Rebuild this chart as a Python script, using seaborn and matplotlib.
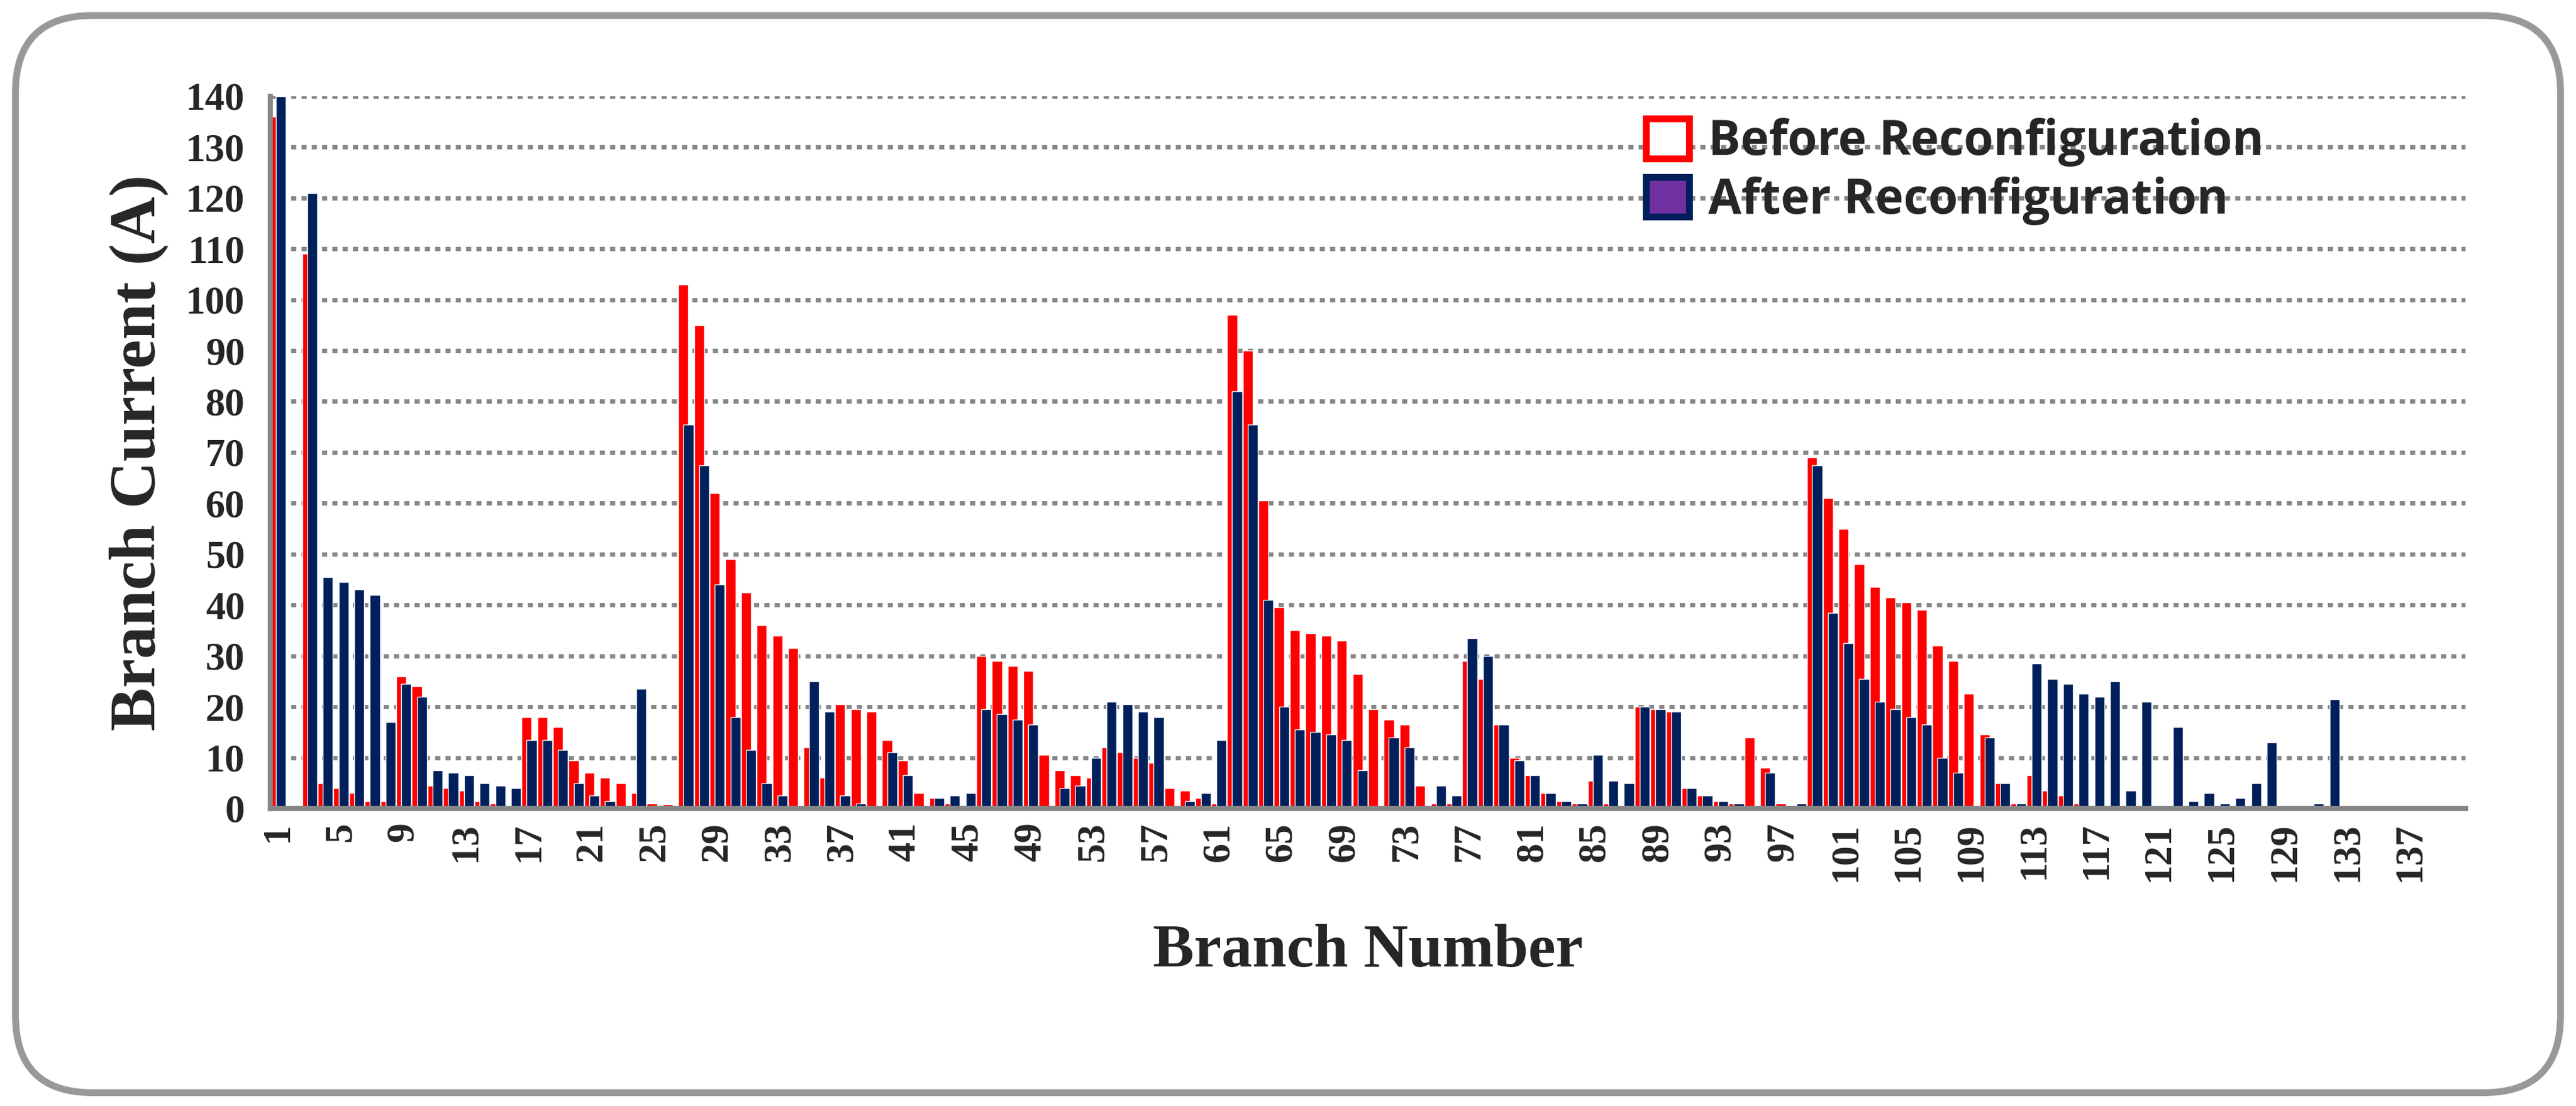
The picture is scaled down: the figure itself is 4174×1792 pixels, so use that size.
import numpy as np
import pandas as pd
import matplotlib
matplotlib.use("Agg")
import matplotlib.pyplot as plt
import seaborn as sns
from matplotlib.patches import Patch, FancyBboxPatch

# 브랜치별 전류 (A)
branch = list(range(1, 141))
before = [136, 0.5, 109, 5, 4, 3, 1.5, 1.5, 26, 24,
          4.5, 4, 3.5, 1.5, 1, 0.5, 18, 18, 16, 9.5,
          7, 6, 5, 3, 1, 0.8, 103, 95, 62, 49,
          42.5, 36, 34, 31.5, 12, 6, 20.5, 19.5, 19, 13.5,
          9.5, 3, 2, 1, 0.5, 30, 29, 28, 27, 10.5,
          7.5, 6.5, 6, 12, 11, 10, 9, 4, 3.5, 2,
          1, 97, 90, 60.5, 39.5, 35, 34.5, 34, 33, 26.5,
          19.5, 17.5, 16.5, 4.5, 1, 1, 29, 25.5, 16.5, 10,
          6.5, 3, 1.5, 1, 5.5, 1, 0.5, 20, 19.5, 19,
          4, 2.5, 1.5, 1, 14, 8, 1, 0.5, 69, 61,
          55, 48, 43.5, 41.5, 40.5, 39, 32, 29, 22.5, 14.5,
          5, 1, 6.5, 3.5, 2.5, 1, 0.5] + [0] * 23
after = [140, 0.5, 121, 45.5, 44.5, 43, 42, 17, 24.5, 22,
         7.5, 7, 6.5, 5, 4.5, 4, 13.5, 13.5, 11.5, 5,
         2.5, 1.5, 0, 23.5, 0.5, 0, 75.5, 67.5, 44, 18,
         11.5, 5, 2.5, 0, 25, 19, 2.5, 1, 0, 11,
         6.5, 0, 2, 2.5, 3, 19.5, 18.5, 17.5, 16.5, 0,
         4, 4.5, 10, 21, 20.5, 19, 18, 0, 1.5, 3,
         13.5, 82, 75.5, 41, 20, 15.5, 15, 14.5, 13.5, 7.5,
         0, 14, 12, 0, 4.5, 2.5, 33.5, 30, 16.5, 9.5,
         6.5, 3, 1.5, 1, 10.5, 5.5, 5, 20, 19.5, 19,
         4, 2.5, 1.5, 1, 0, 7, 0, 1, 67.5, 38.5,
         32.5, 25.5, 21, 19.5, 18, 16.5, 10, 7, 0, 14,
         5, 1, 28.5, 25.5, 24.5, 22.5, 22, 25, 3.5, 21,
         0, 16, 1.5, 3, 1, 2, 5, 13, 0, 0,
         1, 21.5] + [0] * 8

sns.set_theme(style="white")
fig = plt.figure(figsize=(41.74, 17.92), dpi=100)
ax = fig.add_axes([0.105, 0.269, 0.852, 0.644])

bar_w = 0.64
sns.barplot(x=branch, y=before, color="#FF0000", width=bar_w,
            saturation=1, ax=ax)
n_red = len(ax.patches)
sns.barplot(x=branch, y=after, color="#001F5B", width=bar_w,
            saturation=1, ax=ax)
# overlap the two series like an Excel clustered chart
for i, p in enumerate(ax.patches):
    p.set_x(p.get_x() + (-0.16 if i < n_red else 0.16))

grey = "#878787"
ax.set_ylim(0, 140)
ax.set_xlim(-0.5, len(branch) - 0.5)
ax.set_yticks(np.arange(0, 141, 10))
ax.yaxis.grid(True, linestyle=(0, (1.2, 1.2)), color=grey, linewidth=5)
ax.set_axisbelow(True)
for s in ["top", "right"]:
    ax.spines[s].set_visible(False)
for s in ["left", "bottom"]:
    ax.spines[s].set_color(grey)
    ax.spines[s].set_linewidth(6)

ax.set_xticks(range(0, len(branch), 4))
ax.set_xticklabels([str(b) for b in branch[::4]], rotation=90)
ax.set_xticks(np.arange(-0.5, len(branch), 1), minor=True)
ax.tick_params(axis="x", which="major", length=0, pad=16)
ax.tick_params(axis="x", which="minor", length=24, width=6, color=grey)
ax.tick_params(axis="y", length=22, width=6, color=grey, pad=8)
for lab in ax.get_xticklabels() + ax.get_yticklabels():
    lab.set_fontfamily("Liberation Serif")
    lab.set_fontweight("bold")
    lab.set_fontsize(46)

ax.set_xlabel("Branch Number", fontfamily="Liberation Serif",
              fontweight="bold", fontsize=72, labelpad=50)
ax.set_ylabel("Branch Current (A)", fontfamily="Liberation Serif",
              fontweight="bold", fontsize=76, labelpad=20)

handles = [Patch(facecolor="white", edgecolor="#FF0000", linewidth=8),
           Patch(facecolor="#7030A0", edgecolor="#001F5B", linewidth=8)]
ax.legend(handles, ["Before Reconfiguration", "After Reconfiguration"],
          loc="upper left", bbox_to_anchor=(0.607, 1.03), frameon=False,
          prop={"family": "Open Sans", "weight": "bold", "size": 56},
          handlelength=0.9, handleheight=0.9, handletextpad=0.4,
          labelspacing=0.2)

frame = FancyBboxPatch((0.006, 0.012), 0.988, 0.974,
                       boxstyle="round,pad=0,rounding_size=0.03",
                       transform=fig.transFigure, facecolor="none",
                       edgecolor="#999999", linewidth=8,
                       mutation_aspect=4174 / 1792)
fig.patches.append(frame)

fig.savefig("out.png", dpi=100)
